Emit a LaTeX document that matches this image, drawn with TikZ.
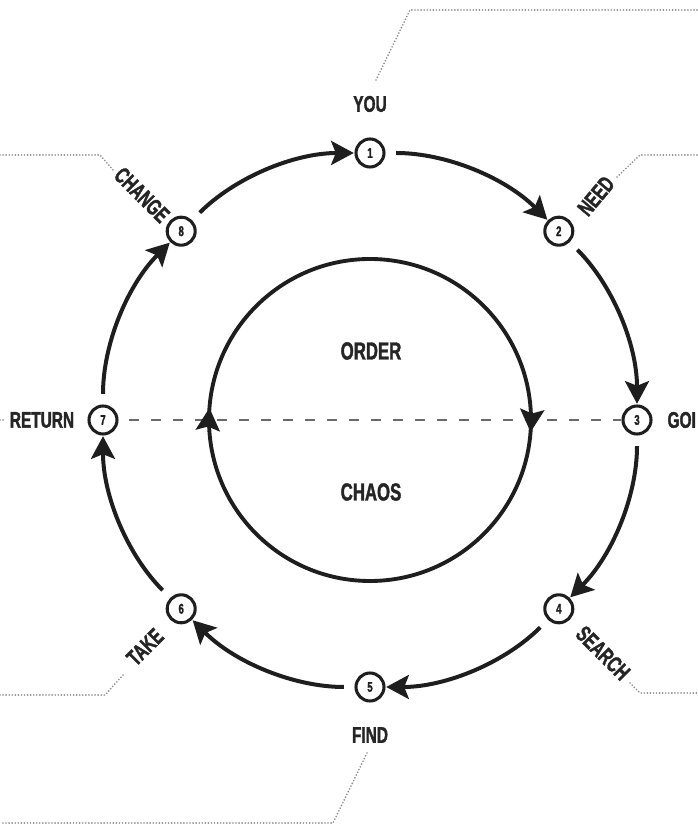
\documentclass[tikz,border=0pt]{standalone}
\usepackage{fontspec}
\newfontfamily\labfont[FakeStretch=0.68, BoldFeatures={FakeBold=1.6}]{Liberation Sans}
\usetikzlibrary{arrows.meta,decorations.markings}
\definecolor{ink}{HTML}{1E1E1E}
\definecolor{txt}{HTML}{252525}
\definecolor{dots}{HTML}{8C8C8C}
\definecolor{dashc}{HTML}{6A6A6A}
\begin{document}
\begin{tikzpicture}[x=0.75pt,y=0.75pt,
  stage/.style={circle, draw=ink, line width=2.3pt, minimum size=21pt, inner sep=0pt,
    font=\labfont\bfseries\fontsize{10.5}{10.5}\selectfont, text=ink},
  lab/.style={font=\labfont\bfseries\fontsize{17}{17}\selectfont, text=txt, inner sep=1pt},
  biglab/.style={font=\labfont\bfseries\fontsize{18.5}{18.5}\selectfont, text=txt, inner sep=1pt},
  flow/.style={draw=ink, line width=3pt, shorten <=8pt, shorten >=0.5pt,
    -{Stealth[length=17pt,width=18pt,inset=3.5pt]}},
  arcflow/.style={flow, bend left=22.5, looseness=0.88},
  midline/.style={draw=dashc, line width=1.1pt, dash pattern=on 7.5pt off 9pt, shorten <=8pt},
  callout/.style={draw=dots, line width=1.4pt, line cap=round, dash pattern=on 0pt off 2.3pt},
  ringline/.style={draw=ink, line width=2.9pt,
    postaction={decorate, decoration={markings,
      mark=at position 0.012 with {\arrow{Stealth[length=17pt,width=18pt,inset=3pt]}},
      mark=at position 0.512 with {\arrow{Stealth[length=17pt,width=18pt,inset=3pt]}}}}}
]
\useasboundingbox (0,0) rectangle (698,831);
\coordinate (c) at (370,411);

% stage nodes
\node[stage] (n1) at (370,678) {1};
\node[stage] (n2) at (558.8,599.8) {2};
\node[stage] (n3) at (637,411) {3};
\node[stage] (n4) at (558.8,222.2) {4};
\node[stage] (n5) at (370,144) {5};
\node[stage] (n6) at (181.2,222.2) {6};
\node[stage] (n7) at (103,411) {7};
\node[stage] (n8) at (181.2,599.8) {8};

% dashed horizon
\draw[midline] (n7) -- (n3);

% inner circle
\draw[ringline] (c) ++(0:161) arc[start angle=0, end angle=-360, radius=161];

% outer cycle arcs
\draw[arcflow] (n1) to (n2);
\draw[arcflow] (n2) to (n3);
\draw[arcflow] (n3) to (n4);
\draw[arcflow] (n4) to (n5);
\draw[arcflow] (n5) to (n6);
\draw[arcflow] (n6) to (n7);
\draw[arcflow] (n7) to (n8);
\draw[arcflow] (n8) to (n1);

% labels
\node[lab] (you) at (370,727) {YOU};
\node[lab, rotate=50] (need) at (596,635) {NEED};
\node[lab, anchor=west] (goi) at (666,411) {GOI};
\node[lab, rotate=-45] (search) at (603,178) {SEARCH};
\node[lab] (find) at (370,96) {FIND};
\node[lab, rotate=45] (take) at (145,184) {TAKE};
\node[lab] (return) at (42,411) {RETURN};
\node[lab, rotate=-45] (change) at (142,636) {CHANGE};
\node[biglab] (order) at (371,480) {ORDER};
\node[biglab] (chaos) at (371,339) {CHAOS};

% dotted callouts
\coordinate (ya) at (376,751); \coordinate (yb) at (410,821); \coordinate (yc) at (698,821);
\draw[callout] (ya) -- (yb) -- (yc);
\coordinate (na) at (617,654); \coordinate (nb) at (640,676); \coordinate (nc) at (698,676);
\draw[callout] (na) -- (nb) -- (nc);
\coordinate (ca) at (0,676); \coordinate (cb) at (100,676); \coordinate (cc) at (113,661);
\draw[callout] (ca) -- (cb) -- (cc);
\coordinate (ra) at (0,411); \coordinate (rb) at (5,411);
\draw[callout] (ra) -- (rb);
\coordinate (ta) at (0,136); \coordinate (tb) at (105,136); \coordinate (tc) at (123,156);
\draw[callout] (ta) -- (tb) -- (tc);
\coordinate (sa) at (630,148); \coordinate (sb) at (640,138); \coordinate (sc) at (698,138);
\draw[callout] (sa) -- (sb) -- (sc);
\coordinate (fa) at (367,78); \coordinate (fb) at (333,8); \coordinate (fc) at (0,8);
\draw[callout] (fa) -- (fb) -- (fc);
\end{tikzpicture}
\end{document}
